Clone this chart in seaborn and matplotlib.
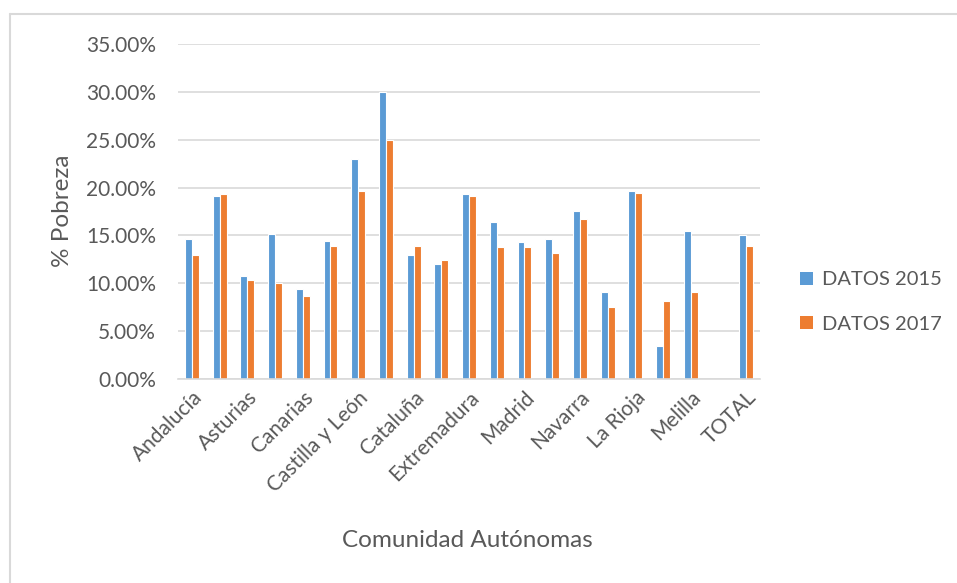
import matplotlib
matplotlib.use("Agg")
import matplotlib.pyplot as plt
from matplotlib.patches import Patch
from matplotlib.lines import Line2D
import seaborn as sns
import pandas as pd

# Poverty rate by autonomous community (%)
comunidades = [
    "Andalucía", "Aragón", "Asturias", "Baleares", "Canarias", "Cantabria",
    "Castilla y León", "Castilla-La Mancha", "Cataluña", "C. Valenciana",
    "Extremadura", "Galicia", "Madrid", "Murcia", "Navarra", "País Vasco",
    "La Rioja", "Ceuta", "Melilla", "", "TOTAL",
]
datos_2015 = [14.6, 19.1, 10.8, 15.1, 9.4, 14.4, 23.0, 30.0, 13.0, 12.0,
              19.3, 16.4, 14.3, 14.6, 17.6, 9.1, 19.6, 3.5, 15.5, None, 15.0]
datos_2017 = [13.0, 19.3, 10.3, 10.0, 8.7, 13.9, 19.6, 25.0, 13.9, 12.4,
              19.1, 13.8, 13.8, 13.2, 16.7, 7.5, 19.4, 8.1, 9.1, None, 13.9]
series = ["DATOS 2015", "DATOS 2017"]
colores = ["#5B9BD5", "#ED7D31"]
y_ticks = [0, 5, 10, 15, 20, 25, 30, 35]

df = pd.DataFrame({
    "comunidad": comunidades * 2,
    "valor": datos_2015 + datos_2017,
    "serie": [series[0]] * len(comunidades) + [series[1]] * len(comunidades),
})

sns.set_theme(style="white")
plt.rcParams["font.family"] = ["Lato", "DejaVu Sans"]
texto = "#595959"
rejilla = "#d9d9d9"

fig = plt.figure(figsize=(9.57, 5.83), dpi=100)
ax = fig.add_axes([178 / 957, 1 - 379 / 583, 582 / 957, 335 / 583])

sns.barplot(data=df, x="comunidad", y="valor", hue="serie", order=comunidades,
            hue_order=series, palette=colores, width=0.5, ax=ax,
            edgecolor="white", linewidth=0.8, saturation=1, legend=False)

ax.set_ylim(0, 35)
ax.set_xlim(-0.5, len(comunidades) - 0.5)
ax.set_yticks(y_ticks)
ax.set_yticklabels([f"{v:.2f}%" for v in y_ticks], fontsize=15, color=texto)
ax.yaxis.grid(True, color=rejilla, linewidth=1.2)
ax.set_axisbelow(True)
ax.tick_params(axis="both", length=0)
ax.tick_params(axis="y", pad=16)

ax.set_xticks(range(len(comunidades)))
ax.set_xticklabels([c if i % 2 == 0 else "" for i, c in enumerate(comunidades)],
                   rotation=45, ha="right", rotation_mode="anchor",
                   fontsize=15, color=texto)
ax.tick_params(axis="x", pad=6)

for lado in ["top", "right", "left"]:
    ax.spines[lado].set_visible(False)
ax.spines["bottom"].set_color(rejilla)
ax.spines["bottom"].set_linewidth(1.2)

ax.set_ylabel("% Pobreza", fontsize=17.5, color=texto)
ax.yaxis.label.set_va("center")
ax.yaxis.set_label_coords(-0.199, 0.501)
ax.set_xlabel("Comunidad Autónomas", fontsize=17.5, color=texto)
ax.xaxis.set_label_coords(0.498, -0.45)

handles = [Patch(facecolor=c, edgecolor="none") for c in colores]
fig.legend(handles, series, loc="center left", bbox_to_anchor=(786 / 957, 1 - 302 / 583),
           frameon=False, fontsize=14.5, labelcolor=texto, handlelength=0.65,
           handleheight=0.65, handletextpad=0.45, labelspacing=1.35,
           borderaxespad=0.3)

# light chart-area border along the top and left
fig.add_artist(Line2D([10 / 957, 1.0], [1 - 14 / 583, 1 - 14 / 583],
                      transform=fig.transFigure, color=rejilla, linewidth=1.5))
fig.add_artist(Line2D([10 / 957, 10 / 957], [0.0, 1 - 14 / 583],
                      transform=fig.transFigure, color=rejilla, linewidth=1.5))

fig.savefig("out.png", dpi=100, facecolor="white")
